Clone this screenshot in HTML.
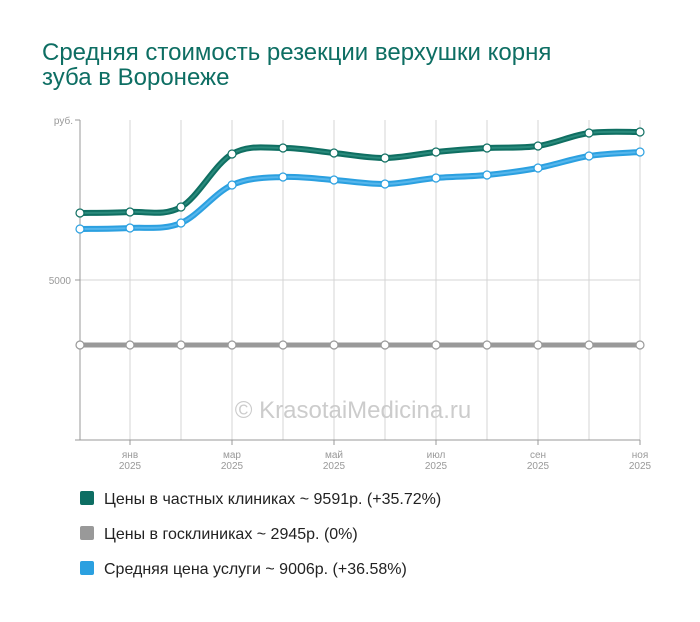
<!DOCTYPE html>
<html><head><meta charset="utf-8"><style>
body{margin:0;background:#fff;width:700px;height:617px;overflow:hidden;font-family:"Liberation Sans",Arial,sans-serif}
</style></head><body>
<svg width="700" height="617" xmlns="http://www.w3.org/2000/svg" font-family="Liberation Sans, Arial, sans-serif">
<text x="42" y="60" font-size="24" fill="#0d6e63">Средняя стоимость резекции верхушки корня</text>
<text x="42" y="85" font-size="24" fill="#0d6e63">зуба в Воронеже</text>
<g stroke="#d4d4d4" stroke-width="1">
<line x1="80" y1="280" x2="640" y2="280"/>
<line x1="130" y1="120" x2="130" y2="440"/><line x1="181" y1="120" x2="181" y2="440"/><line x1="232" y1="120" x2="232" y2="440"/><line x1="283" y1="120" x2="283" y2="440"/><line x1="334" y1="120" x2="334" y2="440"/><line x1="385" y1="120" x2="385" y2="440"/><line x1="436" y1="120" x2="436" y2="440"/><line x1="487" y1="120" x2="487" y2="440"/><line x1="538" y1="120" x2="538" y2="440"/><line x1="589" y1="120" x2="589" y2="440"/><line x1="640" y1="120" x2="640" y2="440"/>
</g>
<g stroke="#999" stroke-width="1">
<line x1="80" y1="120" x2="80" y2="440"/><line x1="75" y1="120" x2="80" y2="120"/><line x1="75" y1="280" x2="80" y2="280"/><line x1="75" y1="440" x2="640" y2="440"/>
<line x1="130" y1="440" x2="130" y2="445"/><line x1="232" y1="440" x2="232" y2="445"/><line x1="334" y1="440" x2="334" y2="445"/><line x1="436" y1="440" x2="436" y2="445"/><line x1="538" y1="440" x2="538" y2="445"/><line x1="640" y1="440" x2="640" y2="445"/>
</g>
<g font-size="10" fill="#999">
<text x="73" y="124" text-anchor="end">руб.</text>
<text x="71" y="284" text-anchor="end">5000</text>
<g text-anchor="middle">
<text x="130" y="458">янв</text><text x="130" y="469">2025</text>
<text x="232" y="458">мар</text><text x="232" y="469">2025</text>
<text x="334" y="458">май</text><text x="334" y="469">2025</text>
<text x="436" y="458">июл</text><text x="436" y="469">2025</text>
<text x="538" y="458">сен</text><text x="538" y="469">2025</text>
<text x="640" y="458">ноя</text><text x="640" y="469">2025</text>
</g></g>
<text x="353" y="418" font-size="24" fill="#ccc" text-anchor="middle">© KrasotaiMedicina.ru</text>
<line x1="80" y1="345" x2="640" y2="345" stroke="#999" stroke-width="5"/>
<g fill="none">
<path stroke="#0f6f62" stroke-width="6" d="M80,213 C88.3,212.8 113.2,213 130,212 C146.8,211 164,216.7 181,207 C198,197.3 215,163.8 232,154 C249,144.2 266,148.2 283,148 C300,147.8 317,151.3 334,153 C351,154.7 368,158.2 385,158 C402,157.8 419,153.7 436,152 C453,150.3 470,149 487,148 C504,147 521,148.5 538,146 C555,143.5 572,135.3 589,133 C606,130.7 631.5,132.2 640,132"/>
<path stroke="#2a8a7c" stroke-width="2" d="M80,213 C88.3,212.8 113.2,213 130,212 C146.8,211 164,216.7 181,207 C198,197.3 215,163.8 232,154 C249,144.2 266,148.2 283,148 C300,147.8 317,151.3 334,153 C351,154.7 368,158.2 385,158 C402,157.8 419,153.7 436,152 C453,150.3 470,149 487,148 C504,147 521,148.5 538,146 C555,143.5 572,135.3 589,133 C606,130.7 631.5,132.2 640,132"/>
<path stroke="#2ba0e0" stroke-width="6" d="M80,229 C88.3,228.8 113.2,229 130,228 C146.8,227 164,230.2 181,223 C198,215.8 215,192.7 232,185 C249,177.3 266,177.8 283,177 C300,176.2 317,178.8 334,180 C351,181.2 368,184.3 385,184 C402,183.7 419,179.5 436,178 C453,176.5 470,176.7 487,175 C504,173.3 521,171.2 538,168 C555,164.8 572,158.7 589,156 C606,153.3 631.5,152.7 640,152"/>
<path stroke="#56b6ec" stroke-width="2" d="M80,229 C88.3,228.8 113.2,229 130,228 C146.8,227 164,230.2 181,223 C198,215.8 215,192.7 232,185 C249,177.3 266,177.8 283,177 C300,176.2 317,178.8 334,180 C351,181.2 368,184.3 385,184 C402,183.7 419,179.5 436,178 C453,176.5 470,176.7 487,175 C504,173.3 521,171.2 538,168 C555,164.8 572,158.7 589,156 C606,153.3 631.5,152.7 640,152"/>
</g>
<g fill="#fff" stroke="#999" stroke-width="1.2">
<circle cx="80" cy="345" r="4"/><circle cx="130" cy="345" r="4"/><circle cx="181" cy="345" r="4"/><circle cx="232" cy="345" r="4"/><circle cx="283" cy="345" r="4"/><circle cx="334" cy="345" r="4"/><circle cx="385" cy="345" r="4"/><circle cx="436" cy="345" r="4"/><circle cx="487" cy="345" r="4"/><circle cx="538" cy="345" r="4"/><circle cx="589" cy="345" r="4"/><circle cx="640" cy="345" r="4"/>
</g>
<g fill="#fff" stroke="#0f6f62" stroke-width="1.2">
<circle cx="80" cy="213" r="4"/><circle cx="130" cy="212" r="4"/><circle cx="181" cy="207" r="4"/><circle cx="232" cy="154" r="4"/><circle cx="283" cy="148" r="4"/><circle cx="334" cy="153" r="4"/><circle cx="385" cy="158" r="4"/><circle cx="436" cy="152" r="4"/><circle cx="487" cy="148" r="4"/><circle cx="538" cy="146" r="4"/><circle cx="589" cy="133" r="4"/><circle cx="640" cy="132" r="4"/>
</g>
<g fill="#fff" stroke="#2ba0e0" stroke-width="1.2">
<circle cx="80" cy="229" r="4"/><circle cx="130" cy="228" r="4"/><circle cx="181" cy="223" r="4"/><circle cx="232" cy="185" r="4"/><circle cx="283" cy="177" r="4"/><circle cx="334" cy="180" r="4"/><circle cx="385" cy="184" r="4"/><circle cx="436" cy="178" r="4"/><circle cx="487" cy="175" r="4"/><circle cx="538" cy="168" r="4"/><circle cx="589" cy="156" r="4"/><circle cx="640" cy="152" r="4"/>
</g>
<rect x="80" y="491" width="14" height="14" rx="2" fill="#0d6e63"/>
<text x="104" y="504" font-size="16" fill="#222">Цены в частных клиниках ~ 9591р. (+35.72%)</text>
<rect x="80" y="526" width="14" height="14" rx="2" fill="#999"/>
<text x="104" y="539" font-size="16" fill="#222">Цены в госклиниках ~ 2945р. (0%)</text>
<rect x="80" y="561" width="14" height="14" rx="2" fill="#2ba0e0"/>
<text x="104" y="574" font-size="16" fill="#222">Средняя цена услуги ~ 9006р. (+36.58%)</text>
</svg>
</body></html>
